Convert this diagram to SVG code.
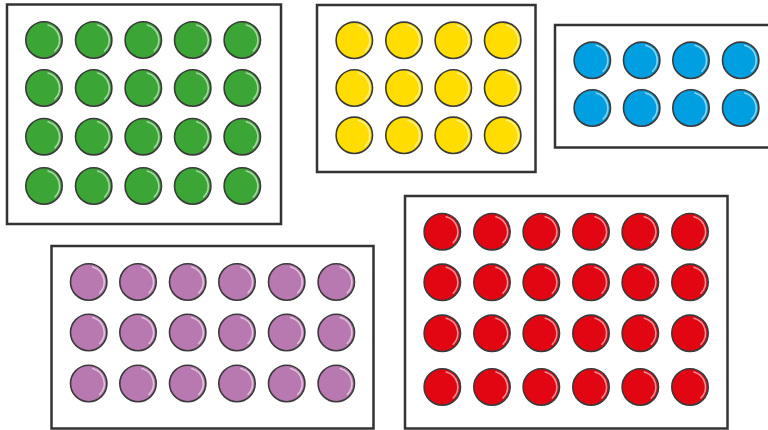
<svg xmlns="http://www.w3.org/2000/svg" xmlns:xlink="http://www.w3.org/1999/xlink" width="768" height="430" viewBox="0 0 768 430">
<style>
.box{fill:#fff;stroke:#333;stroke-width:2.5}
.c{stroke:#3a3a3a;stroke-width:1.6}
.g{fill:#3ba535}
.y{fill:#ffdd00}
.b{fill:#009fe1}
.p{fill:#b878b0}
.r{fill:#e20613}
.hl{fill:none;stroke:#fff;stroke-opacity:0.55;stroke-width:1.6;stroke-linecap:round}
</style>
<defs>
<g id="dot"><circle class="c" r="18.2" cx="0" cy="0" fill="inherit"/><path class="hl" d="M4.0,-15 A15.5,15.5 0 0 1 10.96,10.96"/></g>
</defs>
<rect width="768" height="430" fill="#fff"/>
<g id="green">
<rect class="box" x="7" y="4.5" width="274" height="219.5"/>
<g class="g">
<use xlink:href="#dot" x="44" y="40"/><use xlink:href="#dot" x="93.7" y="40"/><use xlink:href="#dot" x="143.3" y="40"/><use xlink:href="#dot" x="192.7" y="40"/><use xlink:href="#dot" x="242.3" y="40"/>
<use xlink:href="#dot" x="44" y="88"/><use xlink:href="#dot" x="93.7" y="88"/><use xlink:href="#dot" x="143.3" y="88"/><use xlink:href="#dot" x="192.7" y="88"/><use xlink:href="#dot" x="242.3" y="88"/>
<use xlink:href="#dot" x="44" y="136.7"/><use xlink:href="#dot" x="93.7" y="136.7"/><use xlink:href="#dot" x="143.3" y="136.7"/><use xlink:href="#dot" x="192.7" y="136.7"/><use xlink:href="#dot" x="242.3" y="136.7"/>
<use xlink:href="#dot" x="44" y="186"/><use xlink:href="#dot" x="93.7" y="186"/><use xlink:href="#dot" x="143.3" y="186"/><use xlink:href="#dot" x="192.7" y="186"/><use xlink:href="#dot" x="242.3" y="186"/>
</g>
</g>
<g id="yellow">
<rect class="box" x="317" y="5" width="218.5" height="167"/>
<g class="y">
<use xlink:href="#dot" x="354.3" y="40.3"/><use xlink:href="#dot" x="404" y="40.3"/><use xlink:href="#dot" x="453.3" y="40.3"/><use xlink:href="#dot" x="502.7" y="40.3"/>
<use xlink:href="#dot" x="354.3" y="88"/><use xlink:href="#dot" x="404" y="88"/><use xlink:href="#dot" x="453.3" y="88"/><use xlink:href="#dot" x="502.7" y="88"/>
<use xlink:href="#dot" x="354.3" y="135.3"/><use xlink:href="#dot" x="404" y="135.3"/><use xlink:href="#dot" x="453.3" y="135.3"/><use xlink:href="#dot" x="502.7" y="135.3"/>
</g>
</g>
<g id="blue">
<rect class="box" x="555" y="25" width="230" height="122.5"/>
<g class="b">
<use xlink:href="#dot" x="592.3" y="60.3"/><use xlink:href="#dot" x="641.7" y="60.3"/><use xlink:href="#dot" x="691" y="60.3"/><use xlink:href="#dot" x="740.7" y="60.3"/>
<use xlink:href="#dot" x="592.3" y="108"/><use xlink:href="#dot" x="641.7" y="108"/><use xlink:href="#dot" x="691" y="108"/><use xlink:href="#dot" x="740.7" y="108"/>
</g>
</g>
<g id="purple">
<rect class="box" x="51.5" y="246" width="322" height="182.5"/>
<g class="p">
<use xlink:href="#dot" x="88.7" y="282"/><use xlink:href="#dot" x="138" y="282"/><use xlink:href="#dot" x="187.7" y="282"/><use xlink:href="#dot" x="237" y="282"/><use xlink:href="#dot" x="286.7" y="282"/><use xlink:href="#dot" x="336.3" y="282"/>
<use xlink:href="#dot" x="88.7" y="332.5"/><use xlink:href="#dot" x="138" y="332.5"/><use xlink:href="#dot" x="187.7" y="332.5"/><use xlink:href="#dot" x="237" y="332.5"/><use xlink:href="#dot" x="286.7" y="332.5"/><use xlink:href="#dot" x="336.3" y="332.5"/>
<use xlink:href="#dot" x="88.7" y="383.5"/><use xlink:href="#dot" x="138" y="383.5"/><use xlink:href="#dot" x="187.7" y="383.5"/><use xlink:href="#dot" x="237" y="383.5"/><use xlink:href="#dot" x="286.7" y="383.5"/><use xlink:href="#dot" x="336.3" y="383.5"/>
</g>
</g>
<g id="red">
<rect class="box" x="405" y="196" width="322.5" height="232.5"/>
<g class="r">
<use xlink:href="#dot" x="442.3" y="231.7"/><use xlink:href="#dot" x="492" y="231.7"/><use xlink:href="#dot" x="541.3" y="231.7"/><use xlink:href="#dot" x="591" y="231.7"/><use xlink:href="#dot" x="640.3" y="231.7"/><use xlink:href="#dot" x="690" y="231.7"/>
<use xlink:href="#dot" x="442.3" y="282.3"/><use xlink:href="#dot" x="492" y="282.3"/><use xlink:href="#dot" x="541.3" y="282.3"/><use xlink:href="#dot" x="591" y="282.3"/><use xlink:href="#dot" x="640.3" y="282.3"/><use xlink:href="#dot" x="690" y="282.3"/>
<use xlink:href="#dot" x="442.3" y="333.3"/><use xlink:href="#dot" x="492" y="333.3"/><use xlink:href="#dot" x="541.3" y="333.3"/><use xlink:href="#dot" x="591" y="333.3"/><use xlink:href="#dot" x="640.3" y="333.3"/><use xlink:href="#dot" x="690" y="333.3"/>
<use xlink:href="#dot" x="442.3" y="387"/><use xlink:href="#dot" x="492" y="387"/><use xlink:href="#dot" x="541.3" y="387"/><use xlink:href="#dot" x="591" y="387"/><use xlink:href="#dot" x="640.3" y="387"/><use xlink:href="#dot" x="690" y="387"/>
</g>
</g>
<g id="connectors"/>
</svg>
